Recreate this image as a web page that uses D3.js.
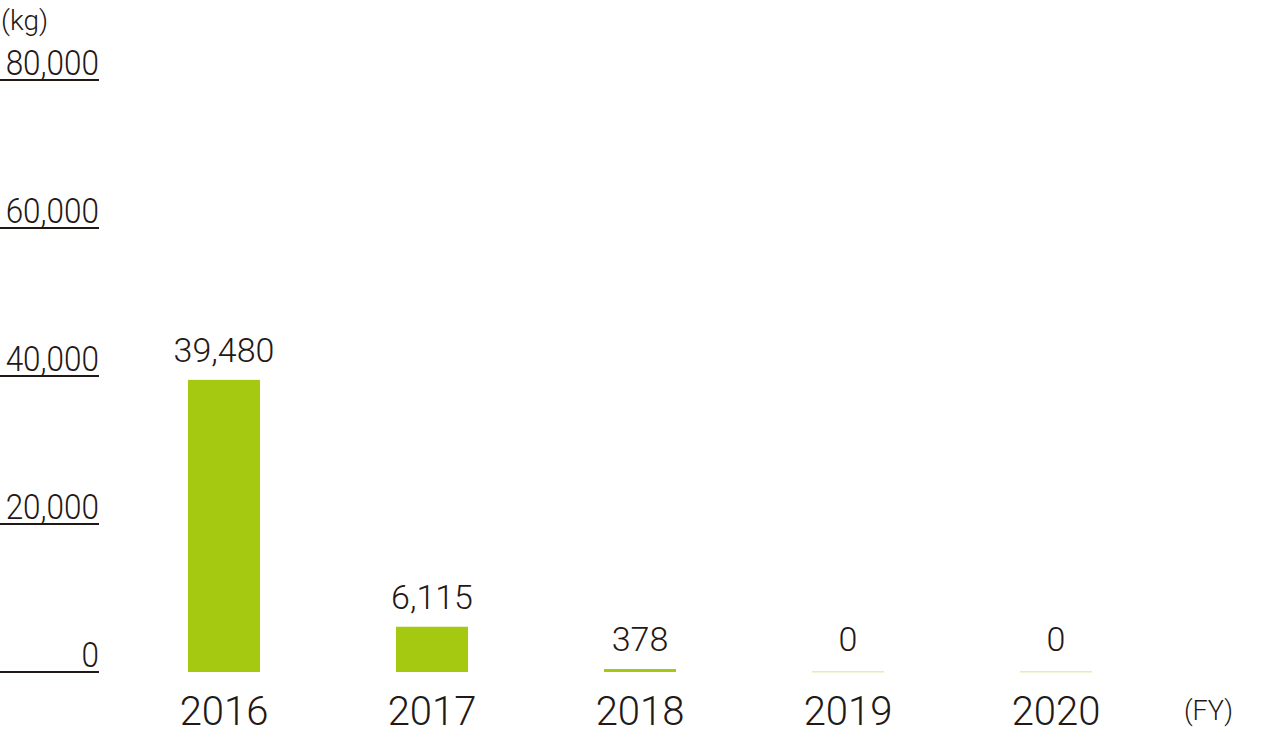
<!DOCTYPE html>
<html><head><meta charset="utf-8">
<script src="https://cdn.jsdelivr.net/npm/d3@7"></script>
<style>
html,body{margin:0;padding:0;background:#fff;}
svg text{font-family:Roboto,"Noto Sans",sans-serif;font-weight:300;fill:#231815;}
</style></head>
<body><svg id="c" width="1288" height="736"></svg>
<script>
const categories = ["2016","2017","2018","2019","2020"];
const values = [39480, 6115, 378, 0, 0];
const valueLabels = ["39,480","6,115","378","0","0"];
const yTicks = [0, 20000, 40000, 60000, 80000];
const yTickLabels = ["0","20,000","40,000","60,000","80,000"];
const unitLabel = "(kg)";
const xUnitLabel = "(FY)";

const svg = d3.select("#c");
const y = d3.scaleLinear().domain([0, 80000]).range([672, 80]);
const p = 136/208;
const x = d3.scaleBand().domain(categories).range([120, 1160]).paddingInner(p).paddingOuter(p/2);

// y ticks
const tg = svg.append("g").selectAll("g").data(yTicks).join("g")
  .attr("transform", d => `translate(0,${y(d)})`);
tg.append("line").attr("x1", 0).attr("x2", 99).attr("y1", 0).attr("y2", 0)
  .attr("stroke", "#231815").attr("stroke-width", 2);
tg.append("text").attr("x", 99).attr("y", -5).attr("text-anchor", "end")
  .attr("transform", "translate(99,0) scale(0.9,1) translate(-99,0)")
  .style("font-size", "35px")
  .text((d, i) => yTickLabels[i]);

svg.append("text").attr("x", 1).attr("y", 30).style("font-size", "28px").text(unitLabel);

// bars
const bars = svg.append("g");
categories.forEach((c, i) => {
  const v = values[i];
  if (v > 0) {
    bars.append("rect").attr("x", x(c)).attr("width", x.bandwidth())
      .attr("y", Math.min(y(v), y(0) - 3)).attr("height", Math.max(y(0) - y(v), 3))
      .attr("fill", "#a5c811");
  } else {
    bars.append("rect").attr("x", x(c)).attr("width", x.bandwidth())
      .attr("y", y(0) - 1).attr("height", 1.5)
      .attr("fill", "#e3edb5");
  }
  const top = Math.min(y(v), y(0) - 3);
  bars.append("text").attr("x", x(c) + x.bandwidth()/2).attr("y", top - 18)
    .attr("text-anchor", "middle").style("font-size", "34px").text(valueLabels[i]);
  bars.append("text").attr("x", x(c) + x.bandwidth()/2).attr("y", 725)
    .attr("text-anchor", "middle").style("font-size", "40px").text(c);
});

svg.append("text").attr("x", 1184).attr("y", 720).style("font-size", "27px").text(xUnitLabel);
</script></body></html>
